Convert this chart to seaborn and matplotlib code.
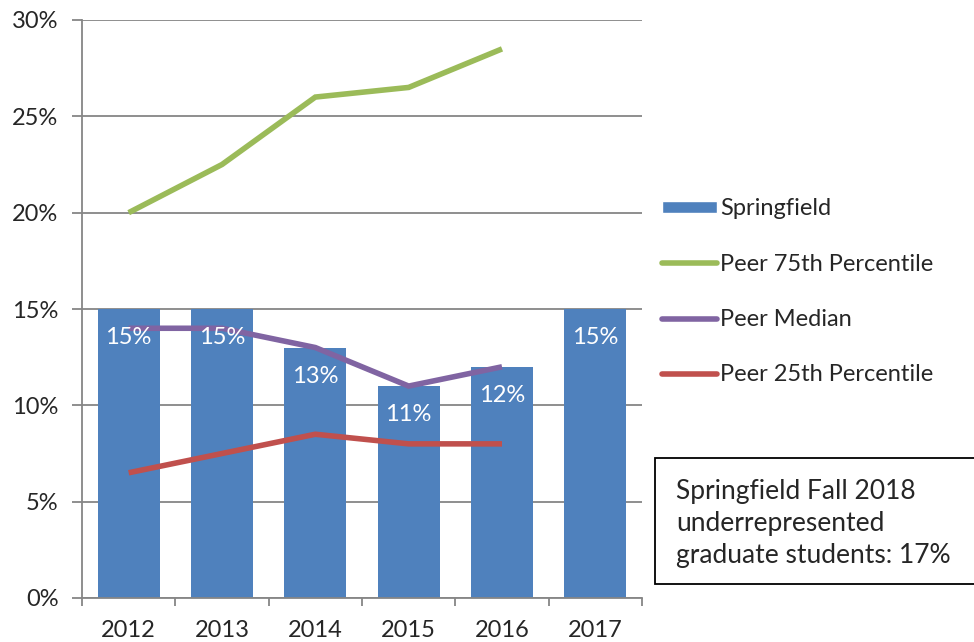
import numpy as np
import pandas as pd
import seaborn as sns
import matplotlib.pyplot as plt
from matplotlib.lines import Line2D
from matplotlib.patches import Patch, Rectangle
from matplotlib.ticker import FixedLocator, PercentFormatter

# data (percent)
years = ["2012", "2013", "2014", "2015", "2016", "2017"]
springfield = [15, 15, 13, 11, 12, 15]
line_years = ["2012", "2013", "2014", "2015", "2016"]
peer_75 = [20, 22.5, 26, 26.5, 28.5]
peer_median = [14, 14, 13, 11, 12]
peer_25 = [6.5, 7.5, 8.5, 8, 8]

BLUE = "#4F81BD"
GREEN = "#9BBB59"
PURPLE = "#8064A2"
RED = "#C0504D"
GRID = "#868686"

sns.set_style("white")
plt.rcParams["font.family"] = ["Lato", "DejaVu Sans"]

fig = plt.figure(figsize=(9.74, 6.42), dpi=100)
ax = fig.add_axes([82 / 974, 1 - 598 / 642, (642 - 82) / 974, (598 - 20) / 642])

bars = pd.DataFrame({"year": years, "value": springfield})
sns.barplot(data=bars, x="year", y="value", color=BLUE, saturation=1,
            width=0.665, linewidth=0, ax=ax, zorder=2)

pos = {y: i for i, y in enumerate(years)}
lines = pd.DataFrame({
    "x": [pos[y] for y in line_years] * 3,
    "value": peer_75 + peer_median + peer_25,
    "series": ["Peer 75th Percentile"] * 5 + ["Peer Median"] * 5 + ["Peer 25th Percentile"] * 5,
})
sns.lineplot(data=lines, x="x", y="value", hue="series",
             palette=[GREEN, PURPLE, RED], linewidth=4, legend=False, ax=ax, zorder=3)
for l in ax.lines:
    l.set_solid_capstyle("butt")
    l.set_solid_joinstyle("miter")

# value labels inside the bars
for i, v in enumerate(springfield):
    ax.text(i, v - 1.5, f"{v}%", ha="center", va="center", color="white", fontsize=17, zorder=4)

ax.set_xlim(-0.5, 5.5)
ax.set_ylim(0, 30)
ax.set_yticks(np.arange(0, 31, 5))
ax.yaxis.set_major_formatter(PercentFormatter(decimals=0))
ax.grid(axis="y", color=GRID, linewidth=1.3, zorder=0)
ax.set_axisbelow(True)
ax.set_xlabel("")
ax.set_ylabel("")

for s in ["top", "right"]:
    ax.spines[s].set_visible(False)
for s in ["left", "bottom"]:
    ax.spines[s].set_color(GRID)
    ax.spines[s].set_linewidth(1.3)

ax.xaxis.set_minor_locator(FixedLocator(np.arange(-0.5, 6, 1)))
ax.tick_params(axis="x", which="major", length=0, pad=16, labelsize=17)
ax.tick_params(axis="x", which="minor", length=6, width=1.3, color=GRID, direction="out")
ax.tick_params(axis="y", length=7, width=1.3, color=GRID, direction="out", pad=10, labelsize=17)
ax.tick_params(bottom=True, left=True, which="both")

handles = [
    Patch(facecolor=BLUE, label="Springfield"),
    Line2D([], [], color=GREEN, lw=4, solid_capstyle="round", label="Peer 75th Percentile"),
    Line2D([], [], color=PURPLE, lw=4, solid_capstyle="round", label="Peer Median"),
    Line2D([], [], color=RED, lw=4, solid_capstyle="round", label="Peer 25th Percentile"),
]
fig.legend(handles=handles, loc="upper left", bbox_to_anchor=(653 / 974, 1 - 189 / 642),
           frameon=False, fontsize=17, handlelength=2.3, handleheight=0.45,
           handletextpad=0.15, labelspacing=1.45, borderaxespad=0)

# annotation box, runs off the right edge like the reference
fig.patches.append(Rectangle((655 / 974, 1 - 584 / 642), 340 / 974, 126 / 642,
                             transform=fig.transFigure, facecolor="white",
                             edgecolor="black", linewidth=1.3, zorder=5))
fig.text(676 / 974, 1 - 523 / 642,
         "Springfield Fall 2018\nunderrepresented\ngraduate students: 17%",
         ha="left", va="center", fontsize=19, linespacing=1.35, zorder=6)

fig.savefig("out.png", dpi=100)
